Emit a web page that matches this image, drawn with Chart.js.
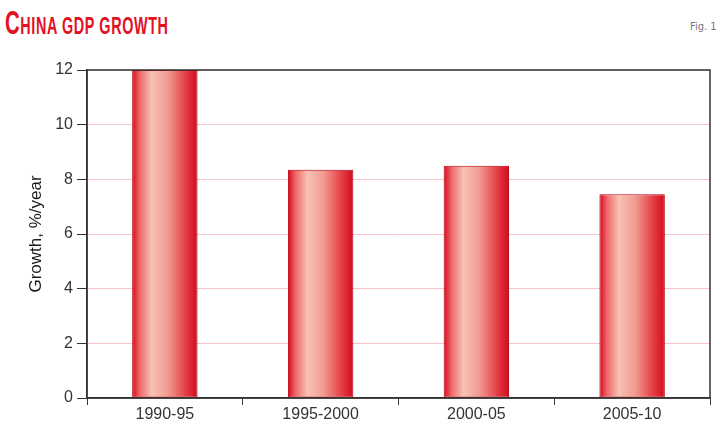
<!DOCTYPE html>
<html>
<head>
<meta charset="utf-8">
<script src="https://cdn.jsdelivr.net/npm/chart.js@4"></script>
<style>
  html, body { margin:0; padding:0; background:#fff; }
  #wrap { position:relative; width:720px; height:423px; }
  #title { position:absolute; left:5px; top:3px; color:#e3101f; font-family:'Liberation Sans',Arial,sans-serif; font-weight:bold; font-size:24px; white-space:nowrap; transform-origin:0 0; transform:scaleX(0.6); letter-spacing:1px; }
  #title .big { font-size:34px; }
  #fig { position:absolute; left:690px; top:20px; color:#777; font-family:'DejaVu Sans Condensed',sans-serif; font-size:11px; }
  canvas { position:absolute; left:0; top:0; }
</style>
</head>
<body>
<div id="wrap">
  <div id="title"><span class="big">C</span>HINA GDP GROWTH</div>
  <div id="fig">Fig. 1</div>
  <canvas id="c" width="720" height="423"></canvas>
</div>
<script>
// data
const periods = ['1990-95', '1995-2000', '2000-05', '2005-10']
const growth = [12.0, 8.35, 8.5, 7.45]
const yTicks = [0, 2, 4, 6, 8, 10, 12]

const BAR_PCT = 0.42

// horizontal shading across each bar
function barFill(c) {
    const chart = c.chart
    const xs = chart.scales.x
    if (c.dataIndex === undefined || !xs) return '#e0202c'
    const cx = xs.getPixelForValue(c.dataIndex)
    const half = xs.width / periods.length * BAR_PCT / 2
    if (!isFinite(cx) || !isFinite(half) || half <= 0) return '#e0202c'
    const g = chart.ctx.createLinearGradient(cx - half, 0, cx + half, 0)
    g.addColorStop(0, '#d8061e')
    g.addColorStop(0.12, '#ee6a6a')
    g.addColorStop(0.3, '#f8c2b4')
    g.addColorStop(0.55, '#f19a90')
    g.addColorStop(0.85, '#e3343c')
    g.addColorStop(1, '#d00a1e')
    return g
}

// box around the plot
const frame = {
    id:'frame',
    afterDatasetsDraw(chart) {
        const a = chart.chartArea
        const ctx = chart.ctx
        ctx.save()
        ctx.strokeStyle = '#333'
        ctx.lineWidth = 1.5
        ctx.strokeRect(a.left, a.top, a.right - a.left, a.bottom - a.top)
        ctx.restore()
    }
}

new Chart(document.getElementById('c'), {
    type:'bar',
    data:{
        labels:periods,
        datasets:[{
            data:growth,
            backgroundColor:barFill,
            borderColor:'#b8000f',
            borderWidth:1,
            borderSkipped:false,
            barPercentage:BAR_PCT,
            categoryPercentage:1
        }]
    },
    options:{
        responsive:false,
        animation:false,
        layout:{ padding:{ top:70, right:10, left:0, bottom:0 }},
        plugins:{ legend:{ display:false }, tooltip:{ enabled:false }},
        scales:{
            x:{
                afterFit:s => { s.height = 25 },
                grid:{ drawOnChartArea:false, drawTicks:true, tickLength:7, tickColor:'#333', offset:true },
                border:{ color:'#333', width:1.5 },
                ticks:{ color:'#333', font:{ family:'Arial, Liberation Sans', size:16 }, padding:0 }
            },
            y:{
                min:0, max:12,
                afterFit:s => { s.width = 87 },
                afterBuildTicks:s => { s.ticks = yTicks.map(v => ({ value:v })) },
                grid:{ color:'#f6c4c4', lineWidth:1, tickColor:'#333', tickLength:10 },
                border:{ color:'#333', width:1.5 },
                ticks:{ color:'#333', font:{ family:'Arial, Liberation Sans', size:16 }, padding:4 },
                title:{ display:true, text:'Growth, %/year', color:'#1a1a1a', font:{ family:'Arial, Liberation Sans', size:17 }, padding:{ top:26, bottom:0 }}
            }
        }
    },
    plugins:[frame]
})
</script>
</body>
</html>
